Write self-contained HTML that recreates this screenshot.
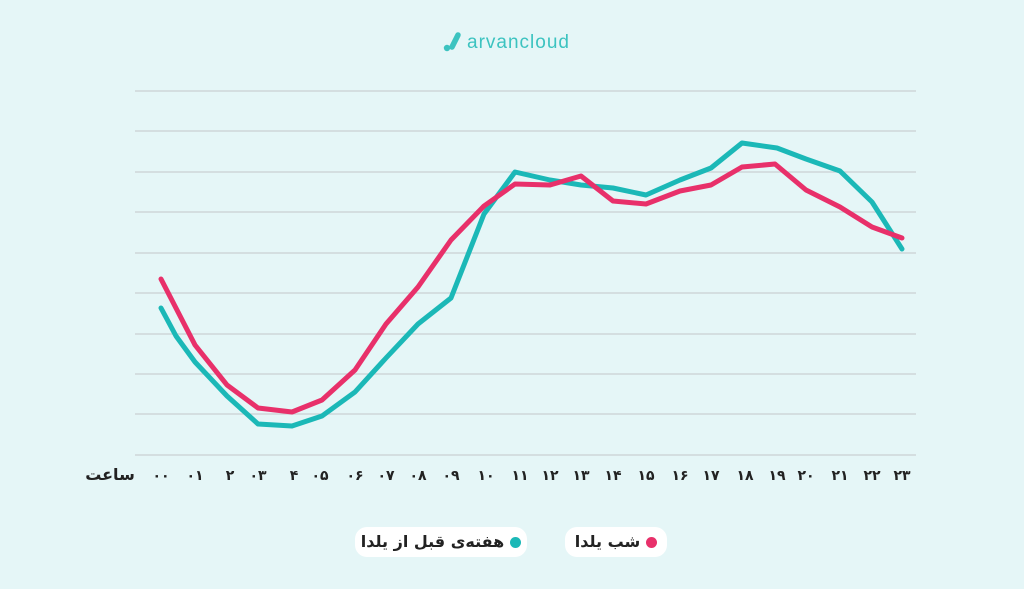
<!DOCTYPE html>
<html><head><meta charset="utf-8"><style>
body{margin:0;width:1024px;height:589px;background:#e5f6f7;overflow:hidden;font-family:"Liberation Sans","DejaVu Sans",sans-serif;}
svg{position:absolute;left:0;top:0}
.lg{position:absolute;top:527px;height:30px;background:#fff;border-radius:12px;font-size:16px;font-weight:600;color:#222;line-height:30px;direction:rtl;font-family:"DejaVu Sans",sans-serif}
.dot{display:inline-block;width:11px;height:11px;border-radius:50%;vertical-align:middle;margin-left:6px}
</style></head><body>
<svg width="1024" height="589">
<g stroke="#c9cfd1" stroke-width="1.2">
<line x1="135" y1="91" x2="916" y2="91"/><line x1="135" y1="131" x2="916" y2="131"/><line x1="135" y1="172" x2="916" y2="172"/><line x1="135" y1="212" x2="916" y2="212"/><line x1="135" y1="253" x2="916" y2="253"/><line x1="135" y1="293" x2="916" y2="293"/><line x1="135" y1="334" x2="916" y2="334"/><line x1="135" y1="374" x2="916" y2="374"/><line x1="135" y1="414" x2="916" y2="414"/><line x1="135" y1="455" x2="916" y2="455"/>
</g>
<polyline fill="none" stroke="#1bb8b7" stroke-width="5" stroke-linejoin="round" stroke-linecap="round" points="161,308 176,336 195,362 227,396 258,424 292,426 322,416 355,392 386,358 418,324 451,298 484,214 515,172 550,180 581,185 613,188 646,195 680,180 711,168 742,143 777,148 806,159 840,171 872,202 902,249"/>
<polyline fill="none" stroke="#e8306a" stroke-width="5" stroke-linejoin="round" stroke-linecap="round" points="161,279 195,345 227,385 258,408 292,412 322,400 355,370 386,324 418,287 451,240 484,206 515,184 550,185 581,176 613,201 646,204 680,191 711,185 742,167 775,164 806,190 840,207 872,227 902,238"/>
<g font-family="DejaVu Sans,sans-serif" font-size="14" font-weight="bold" fill="#222" text-anchor="middle">
<text x="161" y="480">۰۰</text><text x="195" y="480">۰۱</text><text x="230" y="480">۲</text><text x="258" y="480">۰۳</text><text x="294" y="480">۴</text><text x="320" y="480">۰۵</text><text x="355" y="480">۰۶</text><text x="386" y="480">۰۷</text><text x="418" y="480">۰۸</text><text x="451" y="480">۰۹</text><text x="486" y="480">۱۰</text><text x="520" y="480">۱۱</text><text x="550" y="480">۱۲</text><text x="581" y="480">۱۳</text><text x="613" y="480">۱۴</text><text x="646" y="480">۱۵</text><text x="680" y="480">۱۶</text><text x="711" y="480">۱۷</text><text x="745" y="480">۱۸</text><text x="777" y="480">۱۹</text><text x="806" y="480">۲۰</text><text x="840" y="480">۲۱</text><text x="872" y="480">۲۲</text><text x="902" y="480">۲۳</text>
<text x="110" y="480" font-size="16">ساعت</text>
</g>
<circle cx="447" cy="48" r="3.2" fill="#3cc3c0"/>
<line x1="452" y1="47" x2="458" y2="35" stroke="#3cc3c0" stroke-width="5.5" stroke-linecap="round"/>
<text x="467" y="48" font-size="19" letter-spacing="1" fill="#3cc3c0" font-family="Liberation Sans,sans-serif">arvancloud</text>
</svg>
<div class="lg" style="left:355px;width:172px;text-align:center"><span class="dot" style="background:#1bb8b7"></span>هفته‌ی قبل از یلدا</div>
<div class="lg" style="left:565px;width:102px;text-align:center"><span class="dot" style="background:#e8306a"></span>شب یلدا</div>
</body></html>
